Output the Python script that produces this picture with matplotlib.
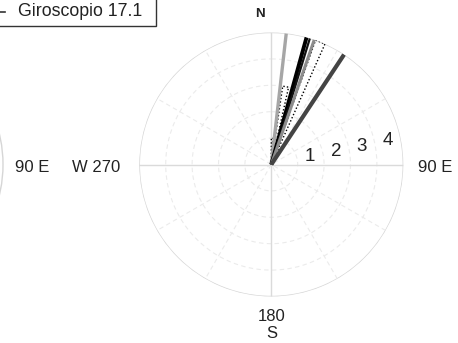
import numpy as np
import matplotlib
matplotlib.use("Agg")
import matplotlib.pyplot as plt
from matplotlib.patches import Circle, Rectangle
from matplotlib.lines import Line2D

plt.rcParams['font.family'] = ['Liberation Sans', 'DejaVu Sans']

# ---- data ----
compass_dirs = [6.5, 15.5, 17.0, 19.0, 33.5]          # degrees from North, clockwise
compass_mags = [5, 5, 5, 5, 5]
rose_lo = [0.0, 8.3, 19.6]                            # petal edges (deg)
rose_hi = [4.0, 12.6, 24.0]
rose_counts = [1, 3, 5]
ring_labels = ['1', '2', '3', '4']
ring_values = [1, 2, 3, 4]
rmax = 5
legend_label = 'Giroscopio 17.1'

W, H = 458, 343
fig = plt.figure(figsize=(W / 100, H / 100), dpi=100)

def fx(x):
    return x / W

def fy(y):
    return 1 - y / H

cx, cy, R = 271.3, 164.5, 132.0
ax = fig.add_axes([fx(cx - R), fy(cy + R), 2 * R / W, 2 * R / H], projection='polar')
ax.set_theta_zero_location('N')
ax.set_theta_direction(-1)
ax.set_ylim(0, rmax)
ax.grid(False)
ax.set_xticks([])
ax.set_yticks([])
ax.spines['polar'].set_visible(False)
ax.patch.set_alpha(0)

th = np.linspace(0, 2 * np.pi, 400)
for rv in ring_values:
    ax.plot(th, np.full_like(th, rv), color='#ebebeb', lw=0.8, ls=(0, (4, 3)), zorder=1)
ax.plot(th, np.full_like(th, rmax), color='#d6d6d6', lw=1.0, zorder=1)
for a in range(0, 180, 30):
    t = np.deg2rad(a)
    if a % 90 == 0:
        ax.plot([t, t + np.pi], [rmax, rmax], color='#dadada', lw=1.0, zorder=1)
    else:
        ax.plot([t, t + np.pi], [rmax, rmax], color='#ebebeb', lw=0.8,
                ls=(0, (4, 3)), zorder=1)

for rv, lab in zip(ring_values, ring_labels):
    ax.text(np.deg2rad(78.5), rv + 0.5, lab, fontsize=13.5, color='#222222',
            ha='center', va='center', zorder=5)

# rose petals (dotted)
for lo, hi, c in zip(rose_lo, rose_hi, rose_counts):
    ax.plot(np.deg2rad([lo, lo, hi, hi]), [0, c, c, 0], color='black', lw=1.0,
            ls=(0, (1, 1.5)), zorder=3)

# compass lines
styles = [('#a6a6a6', 2.4), ('#000000', 2.8), ('#111111', 1.6), ('#8c8c8c', 2.2), ('#444444', 3.0)]
for d, m, (col, lw) in zip(compass_dirs, compass_mags, styles):
    t = np.deg2rad(d)
    ax.plot([t, t], [0, m], color=col, lw=lw, solid_capstyle='butt', zorder=4)

# outside labels
fig.text(fx(260), fy(14), 'N', fontsize=9.5, fontweight='bold', ha='center', va='center', color='#222222')
fig.text(fx(418), fy(167.5), '90 E', fontsize=12, ha='left', va='center', color='#222222')
fig.text(fx(120), fy(167), 'W 270', fontsize=12, ha='right', va='center', color='#222222')
fig.text(fx(271.7), fy(316.7), '180', fontsize=12, ha='center', va='center', color='#222222')
fig.text(fx(271.7), fy(334), 'S', fontsize=12, ha='center', va='center', color='#222222')

# neighbouring subplot remnants
fig.text(fx(15), fy(167.5), '90 E', fontsize=12, ha='left', va='center', color='#222222')
fig.patches.append(Circle((-129, H - 164.5), 132, transform=None, fill=False,
                          edgecolor='#d6d6d6', lw=1.0))
fig.patches.append(Rectangle((-3, H - 26), 159, 30, transform=None, fill=True,
                             facecolor='white', edgecolor='#333333', lw=1.0, zorder=10))
fig.lines.append(Line2D([0, 5], [H - 12, H - 12], transform=None, color='#333333', lw=1.2, zorder=11))
fig.text(fx(18), fy(11.5), legend_label, fontsize=12.8, ha='left', va='center', color='#222222', zorder=12)

fig.savefig('out.png', dpi=100)
